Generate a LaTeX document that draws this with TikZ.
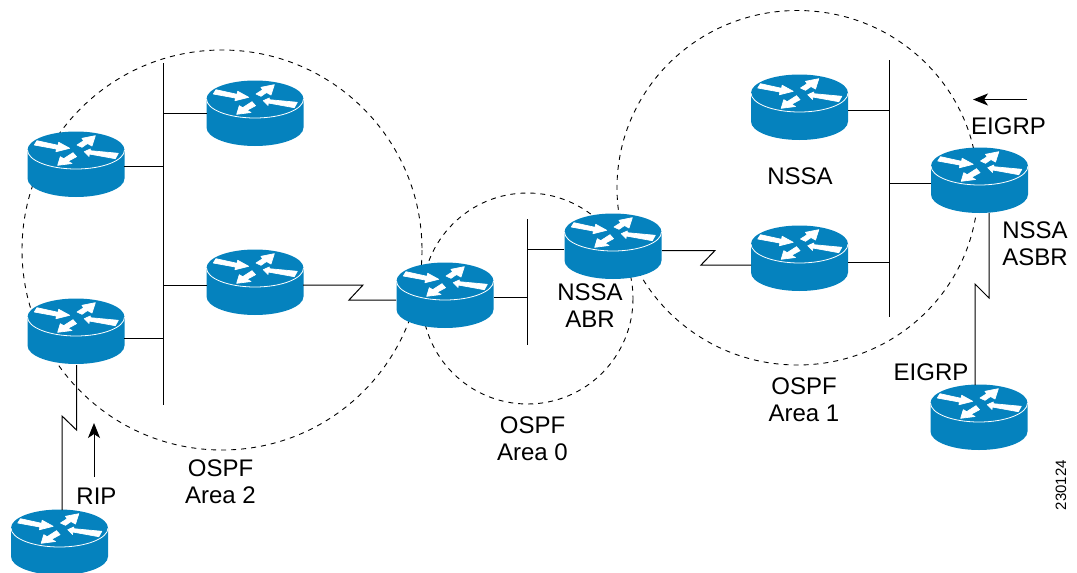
\documentclass[tikz,border=0pt]{standalone}
\usepackage{fontspec}
\setmainfont{Liberation Sans}
\usetikzlibrary{arrows.meta}
\definecolor{ciscoblue}{HTML}{0582BE}
\tikzset{
  wire/.style={black,line width=1pt},
  area/.style={black,line width=0.9pt,dash pattern=on 5pt off 5pt},
  lbl/.style={font=\fontsize{24}{27}\selectfont,align=center,inner sep=0pt,text=black},
  flow/.style={black,line width=1pt,-{Stealth[length=15pt,width=12pt,inset=4pt]}},
  rarrow/.style={fill=white,draw=white,line width=0.7pt,line join=round},
  router/.pic={
    \fill[ciscoblue] (-48.5,0) -- (-48.5,28.5) arc[x radius=48.5,y radius=18.5,start angle=180,end angle=0] -- (48.5,0) arc[x radius=48.5,y radius=18.5,start angle=0,end angle=-180] -- cycle;
    \draw[white,line width=0.8pt] (-48.5,0) arc[x radius=48.5,y radius=19,start angle=180,end angle=0];
    \path[rarrow] (-39,-9.3) -- (-18,-4.7) -- (-17.3,-7.7) -- (-6.3,-1.7) -- (-20,1.7) -- (-19.7,-1) -- (-41.7,-5) -- cycle;
    \path[rarrow] (1,-5) -- (7.7,-9.3) -- (6,-11.7) -- (19.3,-14.3) -- (16,-4) -- (11.5,-6.5) -- (6,-2.7) -- cycle;
    \path[rarrow] (8.3,1.7) -- (14.3,-1) -- (14.3,.7) -- (42.3,3.3) -- (39.3,8.7) -- (13.3,4) -- (13,6.5) -- cycle;
    \path[rarrow] (-18.3,15.3) -- (-15.7,6.7) -- (-12.3,8.7) -- (-3,2.7) -- (0.5,6.7) -- (-8,11.3) -- (-4,13.5) -- cycle;
  }
}
\begin{document}
\begin{tikzpicture}[x=1pt,y=-1pt]
\useasboundingbox (0,0) rectangle (1077,573);
\clip (0,0) rectangle (1077,573);
% areas
\draw[area] (222,250) circle[radius=200];
\draw[area] (527.5,298.5) circle[radius=105.5];
\draw[area] (797.5,187.75) ellipse[x radius=180.5,y radius=177.25];
% coordinates for wires
\coordinate (bus1t) at (163,63); \coordinate (bus1b) at (163,405);
\coordinate (bus2t) at (527,219); \coordinate (bus2b) at (527,345);
\coordinate (bus3t) at (889,60); \coordinate (bus3b) at (889,317);
\draw[wire] (bus1t) -- (bus1b);
\draw[wire] (bus2t) -- (bus2b);
\draw[wire] (bus3t) -- (bus3b);
\coordinate (j1) at (163,113); \coordinate (j2) at (163,166); \coordinate (j3) at (163,285); \coordinate (j4) at (163,338);
\coordinate (j5) at (527,297); \coordinate (j6) at (527,249);
\coordinate (j7) at (889,110); \coordinate (j8) at (889,183); \coordinate (j9) at (889,262);
% routers
\pic (ra) at (255,99) {router}; \coordinate (Ra) at (207,113);
\pic (rb) at (76,150) {router}; \coordinate (Rb) at (124,166);
\pic (rc) at (255,268) {router}; \coordinate (Rc) at (207,285); \coordinate (Rcs) at (303,285);
\pic (rd) at (76,317) {router}; \coordinate (Rd) at (124,338);
\pic (re) at (445,281) {router}; \coordinate (Re) at (494,297); \coordinate (Res) at (396,300);
\pic (rf) at (613,232) {router}; \coordinate (Rf) at (564,249); \coordinate (Rfs) at (662,250.5);
\pic (rg) at (799.5,93) {router}; \coordinate (Rg) at (848,110);
\pic (rh) at (799.5,244) {router}; \coordinate (Rh) at (848,262); \coordinate (Rhs) at (751,265);
\pic (ri) at (979.5,166) {router}; \coordinate (Ri) at (931,183); \coordinate (Ris) at (989,213);
\pic (rj) at (979,403) {router}; \coordinate (Rjs) at (975,385);
\pic (rk) at (59.5,528) {router}; \coordinate (Rks) at (62,510);
\coordinate (Rds) at (76.5,365);
% wires
\draw[wire] (Ra) -- (j1);
\draw[wire] (Rb) -- (j2);
\draw[wire] (Rc) -- (j3);
\draw[wire] (Rd) -- (j4);
\draw[wire] (Re) -- (j5);
\draw[wire] (Rf) -- (j6);
\draw[wire] (Rg) -- (j7);
\draw[wire] (Ri) -- (j8);
\draw[wire] (Rh) -- (j9);
\draw[wire] (Rcs) -- (363,285) -- (349,300) -- (Res);
\draw[wire] (Rfs) -- (715,250.5) -- (701,265) -- (Rhs);
\draw[wire] (Ris) -- (989,298) -- (975,284) -- (Rjs);
\draw[wire] (Rds) -- (76.5,430) -- (62,416) -- (Rks);
% flow arrows
\coordinate (ripa) at (94,477); \coordinate (ripb) at (94,423);
\coordinate (eia) at (1027,99.5); \coordinate (eib) at (973,99.5);
\draw[flow] (ripa) -- (ripb);
\draw[flow] (eia) -- (eib);
% labels
\node[lbl] (t1) at (220.5,482) {OSPF\\Area 2};
\node[lbl] (t2) at (532.5,439) {OSPF\\Area 0};
\node[lbl] (t3) at (804,400) {OSPF\\Area 1};
\node[lbl] (t4) at (590,306) {NSSA\\ABR};
\node[lbl] (t5) at (800,176) {NSSA};
\node[lbl] (t6) at (1035,244) {NSSA\\ASBR};
\node[lbl] (t7) at (1008.5,126) {EIGRP};
\node[lbl] (t8) at (931,372) {EIGRP};
\node[lbl] (t9) at (96.5,496) {RIP};
\node[rotate=90,inner sep=0pt,font=\fontsize{15}{15}\selectfont] (t10) at (1061,485) {230124};
\end{tikzpicture}
\end{document}
